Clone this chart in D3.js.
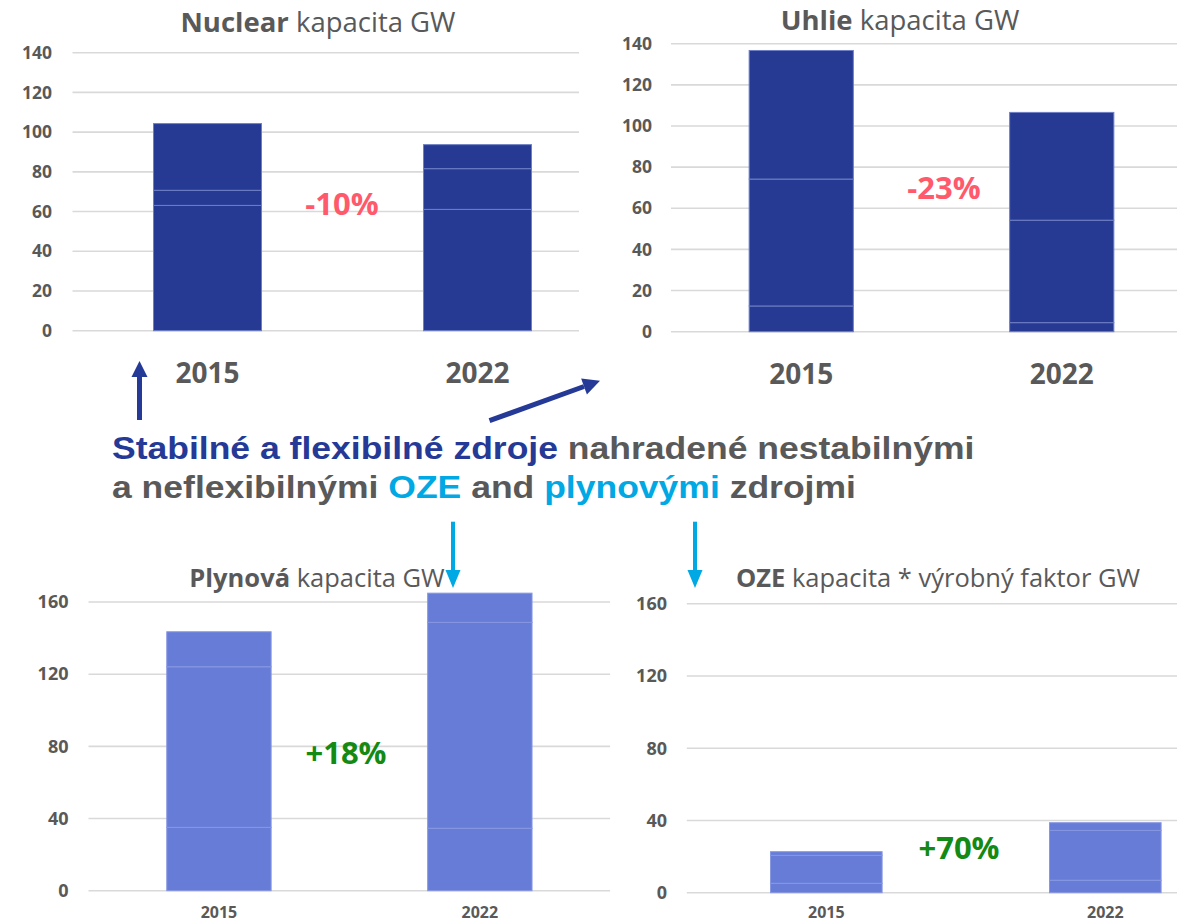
<!DOCTYPE html>
<html>
<head>
<meta charset="utf-8">
<script src="https://cdn.jsdelivr.net/npm/d3@7/dist/d3.min.js"></script>
<style>
  html, body { margin: 0; padding: 0; background: #fff; }
  svg { display: block; }
</style>
</head>
<body>
<div id="chart"></div>
<script>
// Capacity panels: 2015 vs 2022, each bar stacked from a few segments (GW)
const years = ["2015", "2022"];

const nuclearSegments = [[63.1, 7.6, 33.6], [61.1, 20.5, 12.1]];
const coalSegments    = [[12.5, 61.7, 62.5], [4.4, 49.8, 52.4]];
const gasSegments     = [[35.1, 89.0, 19.4], [34.6, 114.1, 16.2]];
const resSegments     = [[5.2, 15.5, 2.0], [6.9, 27.6, 4.25]];

const topTicks    = [0, 20, 40, 60, 80, 100, 120, 140];
const bottomTicks = [0, 40, 80, 120, 160];

const changeLabels = ["-10%", "-23%", "+18%", "+70%"];

const GRAY = "#595959";
const DARK_BAR = "#263a94";
const LIGHT_BAR = "#667cd7";
const RED = "#ff5a6c";
const GREEN = "#138a13";
const NAVY = "#253a97";
const CYAN = "#00a8e4";
const CHART_FONT = "'Open Sans', sans-serif";

const W = 1177, H = 923;
const svg = d3.select("#chart").append("svg")
  .attr("width", W).attr("height", H);

function drawPanel(p) {
  const g = svg.append("g");
  const clipId = "clip-" + p.id;
  svg.append("clipPath").attr("id", clipId)
    .append("rect")
    .attr("x", p.x0 - 2).attr("y", 0)
    .attr("width", p.clipRight - p.x0 + 2).attr("height", H);

  const x = d3.scaleBand().domain(years).range([p.x0, p.x1]).paddingInner(0.6).paddingOuter(0.3);
  const y = d3.scaleLinear().domain([0, p.max]).range([p.yBottom, p.yTop]);

  // gridlines
  const grid = g.append("g").attr("clip-path", `url(#${clipId})`);
  grid.selectAll("line")
    .data(p.ticks)
    .join("line")
    .attr("x1", p.x0).attr("x2", p.x1)
    .attr("y1", d => y(d)).attr("y2", d => y(d))
    .attr("stroke", "#d9d9d9").attr("stroke-width", 1.6);

  // tick labels
  g.selectAll(".tick-label")
    .data(p.ticks)
    .join("text")
    .attr("class", "tick-label")
    .attr("x", p.labelX)
    .attr("y", d => y(d))
    .attr("dy", "0.35em")
    .attr("text-anchor", "end")
    .style("font-family", CHART_FONT)
    .style("font-weight", "700")
    .style("font-size", p.tickSize + "px")
    .style("fill", GRAY)
    .text(d => d);

  // stacked bars
  const bars = p.segments.map((segs, i) => {
    let acc = 0;
    return segs.map(v => {
      const s = { year: years[i], y0: acc, y1: acc + v };
      acc += v;
      return s;
    });
  }).flat();

  grid.selectAll(".seg")
    .data(bars)
    .join("rect")
    .attr("class", "seg")
    .attr("x", d => x(d.year))
    .attr("width", x.bandwidth())
    .attr("y", d => y(d.y1))
    .attr("height", d => y(d.y0) - y(d.y1))
    .attr("fill", p.color)
    .attr("stroke", p.edge)
    .attr("stroke-width", 1);

  // year labels
  g.selectAll(".year")
    .data(years)
    .join("text")
    .attr("class", "year")
    .attr("x", d => x(d) + x.bandwidth() / 2)
    .attr("y", p.yearY)
    .attr("text-anchor", "middle")
    .style("font-family", CHART_FONT)
    .style("font-weight", "700")
    .style("font-size", p.yearSize + "px")
    .style("fill", GRAY)
    .text(d => d);

  // title
  const t = g.append("text")
    .attr("x", p.titleX).attr("y", p.titleY)
    .attr("text-anchor", "middle")
    .style("font-family", CHART_FONT)
    .style("font-size", p.titleSize + "px")
    .style("fill", GRAY);
  t.append("tspan").style("font-weight", "700").text(p.titleBold);
  t.append("tspan").text(p.titleRest);

  // change label
  g.append("text")
    .attr("x", p.changeX).attr("y", p.changeY)
    .attr("text-anchor", "middle")
    .style("font-family", CHART_FONT)
    .style("font-weight", "700")
    .style("font-size", "31px")
    .style("fill", p.changeColor)
    .text(p.change);
}

drawPanel({
  id: "nuclear", segments: nuclearSegments, max: 140, ticks: topTicks,
  x0: 72.5, x1: 612.5, clipRight: 579, yBottom: 330.7, yTop: 52.7,
  labelX: 52, tickSize: 17.5, color: DARK_BAR, edge: "#6e7fc6",
  yearY: 383, yearSize: 28,
  titleX: 318, titleY: 32, titleSize: 27.5, titleBold: "Nuclear", titleRest: " kapacita GW",
  change: changeLabels[0], changeX: 342, changeY: 215, changeColor: RED
});

drawPanel({
  id: "coal", segments: coalSegments, max: 140, ticks: topTicks,
  x0: 671, x1: 1192, clipRight: 1177, yBottom: 331.7, yTop: 43.7,
  labelX: 652, tickSize: 17.5, color: DARK_BAR, edge: "#6e7fc6",
  yearY: 384, yearSize: 28,
  titleX: 900, titleY: 30, titleSize: 27.5, titleBold: "Uhlie", titleRest: " kapacita GW",
  change: changeLabels[1], changeX: 944, changeY: 199, changeColor: RED
});

drawPanel({
  id: "gas", segments: gasSegments, max: 160, ticks: bottomTicks,
  x0: 88.5, x1: 610.3, clipRight: 610.3, yBottom: 890.7, yTop: 602,
  labelX: 68.5, tickSize: 18, color: LIGHT_BAR, edge: "#8797e2",
  yearY: 918, yearSize: 16,
  titleX: 317, titleY: 587, titleSize: 25.5, titleBold: "Plynová", titleRest: " kapacita GW",
  change: changeLabels[2], changeX: 346, changeY: 764, changeColor: GREEN
});

drawPanel({
  id: "res", segments: resSegments, max: 160, ticks: bottomTicks,
  x0: 686.8, x1: 1244.8, clipRight: 1177, yBottom: 892.7, yTop: 603.7,
  labelX: 667, tickSize: 18, color: LIGHT_BAR, edge: "#8797e2",
  yearY: 918, yearSize: 16,
  titleX: 938, titleY: 587, titleSize: 25.5, titleBold: "OZE", titleRest: " kapacita * výrobný faktor GW",
  change: changeLabels[3], changeX: 959, changeY: 859, changeColor: GREEN
});

// central message (slightly widened, as in the source slide)
const msg = svg.append("g")
  .attr("transform", "translate(112,0) scale(1.11,1)")
  .style("font-family", "'Liberation Sans', Arial, sans-serif")
  .style("font-weight", "700")
  .style("font-size", "32px");

const line1 = msg.append("text").attr("x", 0).attr("y", 459);
line1.append("tspan").style("fill", NAVY).text("Stabilné a flexibilné zdroje");
line1.append("tspan").style("fill", GRAY).text(" nahradené nestabilnými");

const line2 = msg.append("text").attr("x", 0).attr("y", 498);
line2.append("tspan").style("fill", GRAY).text("a neflexibilnými ");
line2.append("tspan").style("fill", CYAN).text("OZE");
line2.append("tspan").style("fill", GRAY).text(" and ");
line2.append("tspan").style("fill", CYAN).text("plynovými");
line2.append("tspan").style("fill", GRAY).text(" zdrojmi");

// arrows
function arrow(x1, y1, x2, y2, color, w, headLen, headW) {
  const ang = Math.atan2(y2 - y1, x2 - x1);
  const bx = x2 - headLen * Math.cos(ang), by = y2 - headLen * Math.sin(ang);
  svg.append("line")
    .attr("x1", x1).attr("y1", y1).attr("x2", bx).attr("y2", by)
    .attr("stroke", color).attr("stroke-width", w);
  const px = -Math.sin(ang) * headW / 2, py = Math.cos(ang) * headW / 2;
  svg.append("polygon")
    .attr("points", `${x2},${y2} ${bx + px},${by + py} ${bx - px},${by - py}`)
    .attr("fill", color);
}

arrow(139.5, 420, 139.5, 361, NAVY, 5, 16, 16);
arrow(489.5, 420.7, 600, 380.7, NAVY, 5, 17, 17);
arrow(453, 521.7, 453, 588, CYAN, 4, 18, 15);
arrow(695, 521.7, 695, 588, CYAN, 4, 18, 15);
</script>
</body>
</html>
